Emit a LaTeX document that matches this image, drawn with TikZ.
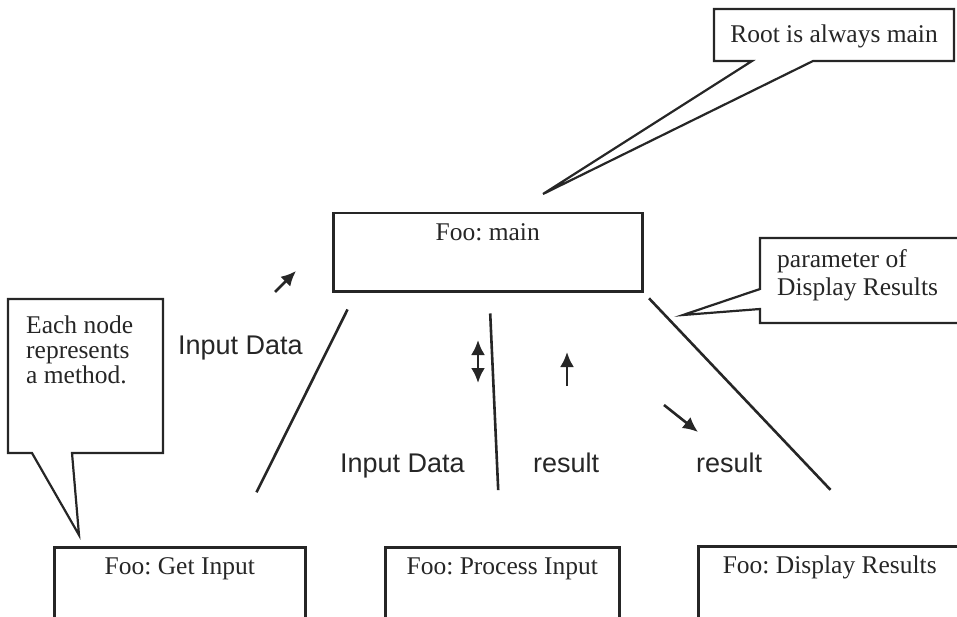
\documentclass[tikz,border=0pt]{standalone}
\usepackage{fontspec}
\setmainfont{Liberation Serif}
\newfontfamily\labelfont{Liberation Sans}
\usetikzlibrary{arrows.meta, positioning, calc}

\begin{document}
\frenchspacing
\begin{tikzpicture}[
    x=1pt, y=-1pt,
    % Method boxes (text sits near the top edge)
    method/.style={
        draw=black!85,
        line width=2.5pt,
        inner sep=0pt,
        anchor=north west,
        text height=27pt,
        text depth=100pt,
        text=black!85,
        font=\fontsize{25.5}{28}\selectfont
    },
    % Callout frames and their texts
    callout/.style={draw=black!85, line width=2.2pt, line join=miter},
    note/.style={inner sep=0pt, anchor=north west, align=left, text=black!85, font=\fontsize{25.5}{25}\selectfont},
    % Flow labels
    flow/.style={inner sep=0pt, anchor=base west, text=black!85, font=\labelfont\fontsize{27}{30}\selectfont},
    link/.style={draw=black!85, line width=2.6pt},
    dir/.style={draw=black!85, line width=2.6pt},
    >={Latex[length=15pt,width=14pt]}
]
    \useasboundingbox (0,0) rectangle (957,617);

    % ==========================================
    % 1. CALL TREE
    % ==========================================
    \node[method, text depth=51pt, minimum width=309pt] (main) at (332,212) {Foo: main};

    \node[method, minimum width=251pt] (getin) at (53,546) {Foo: Get Input};
    \node[method, minimum width=234pt] (procin) at (384,546) {Foo: Process Input};
    \node[method, minimum width=263pt] (dispres) at (697,545) {Foo: Display Results};

    % Tree edges
    \draw[link, shorten <=19pt, shorten >=60pt] ([xshift=24pt]main.south west) -- ([xshift=50pt]getin.north);
    \draw[link, shorten <=21pt, shorten >=56pt] ([xshift=1.5pt]main.south) -- ([xshift=-1.5pt]procin.north);
    \draw[link, shorten <=8pt, shorten >=76pt] (main.south east) -- ([xshift=53pt]dispres.north);

    % Flow labels
    \node[flow] (in_left) at (178,354) {Input Data};
    \node[flow] (in_mid) at (340,472) {Input Data};
    \node[flow] (res_mid) at (533,472) {result};
    \node[flow] (res_right) at (696,472) {result};

    % Direction arrows
    \coordinate (a1s) at (275,292);
    \coordinate (a1e) at (296,271);
    \coordinate (a2s) at (478,340);
    \coordinate (a2e) at (478,383);
    \coordinate (a3s) at (567,386);
    \coordinate (a3e) at (567,352);
    \coordinate (a4s) at (664,405);
    \coordinate (a4e) at (698,432);
    \draw[dir, ->] (a1s) -- (a1e);
    \draw[dir, <->] (a2s) -- (a2e);
    \draw[dir, ->] (a3s) -- (a3e);
    \draw[dir, ->] (a4s) -- (a4e);

    % ==========================================
    % 2. CALLOUTS
    % ==========================================
    \coordinate (roottip) at (543,194);
    \draw[callout] (752,61) -- (714,61) -- (714,9) -- (954,9) -- (954,61) -- (813,61) -- (roottip) -- cycle;
    \node[note, anchor=base] (roottxt) at (834,43) {Root is always main};

    \coordinate (eachtip) at (79,535);
    \draw[callout] (32,453) -- (8,453) -- (8,299) -- (163,299) -- (163,453) -- (72,453) -- (eachtip) -- cycle;
    \node[note] (eachtxt) at (26,315.5) {Each node\\represents\\a method.};

    \coordinate (paramtip) at (683,315);
    \draw[callout] (760,289) -- (760,238) -- (962,238) -- (962,323) -- (760,323) -- (760,309) -- (paramtip) -- cycle;
    \node[note, font=\fontsize{25.5}{28}\selectfont] (paramtxt) at (777,249.5) {parameter of\\Display Results};

\end{tikzpicture}
\end{document}
